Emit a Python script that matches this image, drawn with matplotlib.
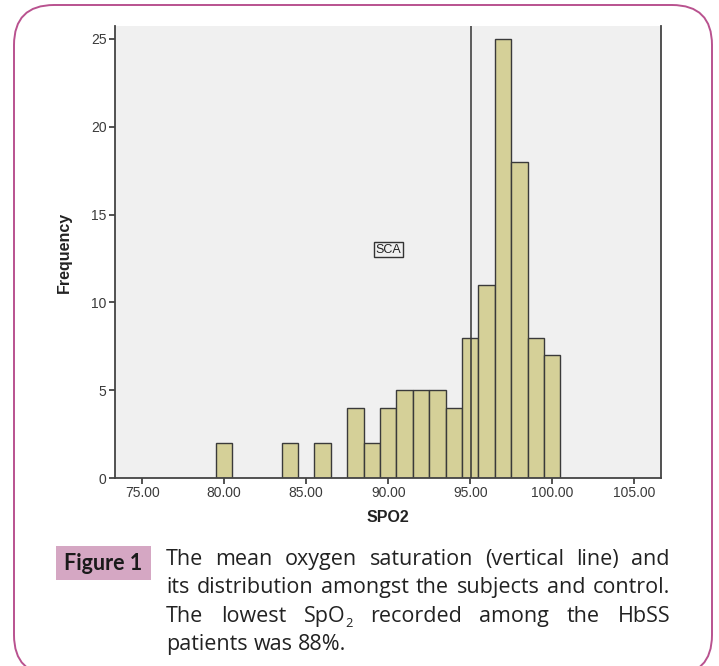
import numpy as np
import matplotlib
matplotlib.use("Agg")
import matplotlib.pyplot as plt
from matplotlib.patches import FancyBboxPatch, Rectangle
from matplotlib.transforms import IdentityTransform

# histogram of SPO2 (bin centres, 1-unit bins)
spo2_bins = [80, 84, 86, 88, 89, 90, 91, 92, 93, 94, 95, 96, 97, 98, 99, 100]
frequency = [2, 2, 2, 4, 2, 4, 5, 5, 5, 4, 8, 11, 25, 18, 8, 7]
x_ticks = [75, 80, 85, 90, 95, 100, 105]
y_ticks = [0, 5, 10, 15, 20, 25]
group_label = "SCA"

caption_lines = [
    ["The", "mean", "oxygen", "saturation", "(vertical", "line)", "and"],
    ["its", "distribution", "amongst", "the", "subjects", "and", "control."],
    ["The", "lowest", "SpO_2", "recorded", "among", "the", "HbSS"],
    ["patients", "was", "88%."],
]

W, H = 719, 666
fig = plt.figure(figsize=(W / 100, H / 100), dpi=100)
fig.patch.set_facecolor("white")

# axes placed in pixel terms
L, R, T, B = 115, 661, 26, 478
ax = fig.add_axes([L / W, 1 - B / H, (R - L) / W, (B - T) / H])
ax.set_facecolor("#f0f0f0")

ax.bar(spo2_bins, frequency, width=1.0, color="#d5d098", edgecolor="#3a3a3a",
       linewidth=1.0, zorder=2)
mean_val = np.sum(np.array(spo2_bins) * np.array(frequency)) / np.sum(frequency)
ax.axvline(mean_val, color="#333333", lw=1.1, zorder=3)

ax.set_xlim(73.34, 106.63)
ax.set_ylim(0, 25.74)
ax.set_xticks(x_ticks)
ax.set_xticklabels(["%.2f" % v for v in x_ticks])
ax.set_yticks(y_ticks)

for s in ["left", "bottom", "right"]:
    ax.spines[s].set_color("#444444")
    ax.spines[s].set_linewidth(1.3)
ax.spines["top"].set_visible(False)
ax.tick_params(axis="both", length=4, width=1.3, color="#444444",
               labelsize=10, labelcolor="#3a3a3a", pad=2)
for lab in ax.get_xticklabels() + ax.get_yticklabels():
    lab.set_family("Liberation Sans")

ax.set_xlabel("SPO2", fontsize=11.5, fontweight="bold", family="Liberation Sans",
              color="#222222", labelpad=7)
ax.set_ylabel("Frequency", fontsize=11.5, fontweight="bold", family="Liberation Sans",
              color="#222222", labelpad=14)

ax.text(90, 13.0, group_label, fontsize=9, family="Liberation Sans", ha="center",
        va="center", color="#222222", zorder=4,
        bbox=dict(boxstyle="square,pad=0.12", fc="#f0f0f0", ec="#333333", lw=1.0))

# rounded frame (display coords, y from bottom)
ident = IdentityTransform()
frame = FancyBboxPatch((14, -9), 698, H - 5 + 9,
                       boxstyle="round,pad=0,rounding_size=40",
                       transform=ident, fill=False, ec="#b9528f", lw=1.4)
fig.patches.append(frame)

# "Figure 1" tag
tag = Rectangle((56, H - 580), 95, 34, transform=ident, fc="#d5a7c3", ec="none")
fig.patches.append(tag)
fig.text(103.5, H - 564, "Figure 1", transform=ident, ha="center", va="center",
         fontsize=15.5, fontweight="bold", family="Lato", color="#1a1a1a")

# justified caption
renderer = fig.canvas.get_renderer()
fs = 15.5
cap_font = dict(fontsize=fs, family="Open Sans", color="#222222")
sub_size = fs * 0.6
x0, x1 = 166, 670
baselines = [565, 593, 622, 650]


def word_width(w):
    if w.endswith("_2"):
        t1 = fig.text(0, 0, w[:-2], transform=ident, **cap_font)
        t2 = fig.text(0, 0, "2", transform=ident, fontsize=sub_size,
                      family="Open Sans")
        wd = t1.get_window_extent(renderer).width + t2.get_window_extent(renderer).width
        t1.remove()
        t2.remove()
        return wd
    t = fig.text(0, 0, w, transform=ident, **cap_font)
    wd = t.get_window_extent(renderer).width
    t.remove()
    return wd


space_w = word_width("a b") - word_width("ab")
for i, words in enumerate(caption_lines):
    widths = [word_width(w) for w in words]
    if i == len(caption_lines) - 1:
        gap = space_w
    else:
        gap = (x1 - x0 - sum(widths)) / (len(words) - 1)
    x = x0
    y = H - baselines[i]
    for w, wd in zip(words, widths):
        if w.endswith("_2"):
            t1 = fig.text(x, y, w[:-2], transform=ident, va="baseline", **cap_font)
            w1 = t1.get_window_extent(renderer).width
            fig.text(x + w1, y - 5, "2", transform=ident, va="baseline",
                     fontsize=sub_size, family="Open Sans", color="#222222")
        else:
            fig.text(x, y, w, transform=ident, va="baseline", **cap_font)
        x += wd + gap

fig.savefig("out.png", dpi=100)
